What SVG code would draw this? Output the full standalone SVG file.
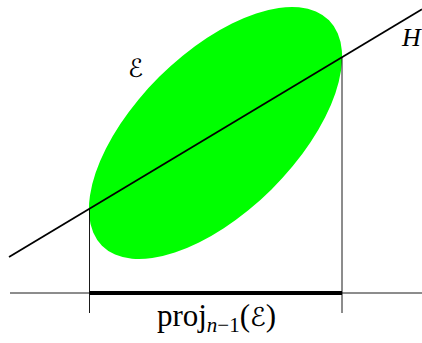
<svg xmlns="http://www.w3.org/2000/svg" width="422" height="343" viewBox="0 0 422 343">
<style>
.thin{stroke:#000;stroke-width:0.9;fill:none}
.lbl{font-family:"Liberation Serif","DejaVu Serif",serif;fill:#000}
.cal{font-family:"DejaVu Sans",sans-serif;font-style:normal}
</style>
<rect width="422" height="343" fill="#fff"/>
<g id="ellipse">
<ellipse cx="215.5" cy="133" rx="160" ry="79.5" transform="rotate(-44.8 215.5 133)" fill="#00ff00"/>
</g>
<g id="connectors">
<line class="thin" x1="10" y1="293" x2="422" y2="293"/>
<line class="thin" x1="89.5" y1="209" x2="89.5" y2="313"/>
<line class="thin" x1="342" y1="57" x2="342" y2="313"/>
<line x1="9" y1="257" x2="422" y2="9.2" stroke="#000" stroke-width="1.8"/>
<line x1="89.5" y1="293" x2="342" y2="293" stroke="#000" stroke-width="4"/>
</g>
<g id="labels">
<text class="lbl cal" x="128" y="77" font-size="25">ℰ</text>
<text class="lbl" x="402" y="46" font-size="26" font-style="italic">H</text>
<text class="lbl" x="216.5" y="326" font-size="31" text-anchor="middle">proj<tspan font-size="21" dy="6" font-style="italic">n</tspan><tspan font-size="21">−1</tspan><tspan dy="-6">(</tspan><tspan class="cal" font-size="26">ℰ</tspan>)</text>
</g>
</svg>
